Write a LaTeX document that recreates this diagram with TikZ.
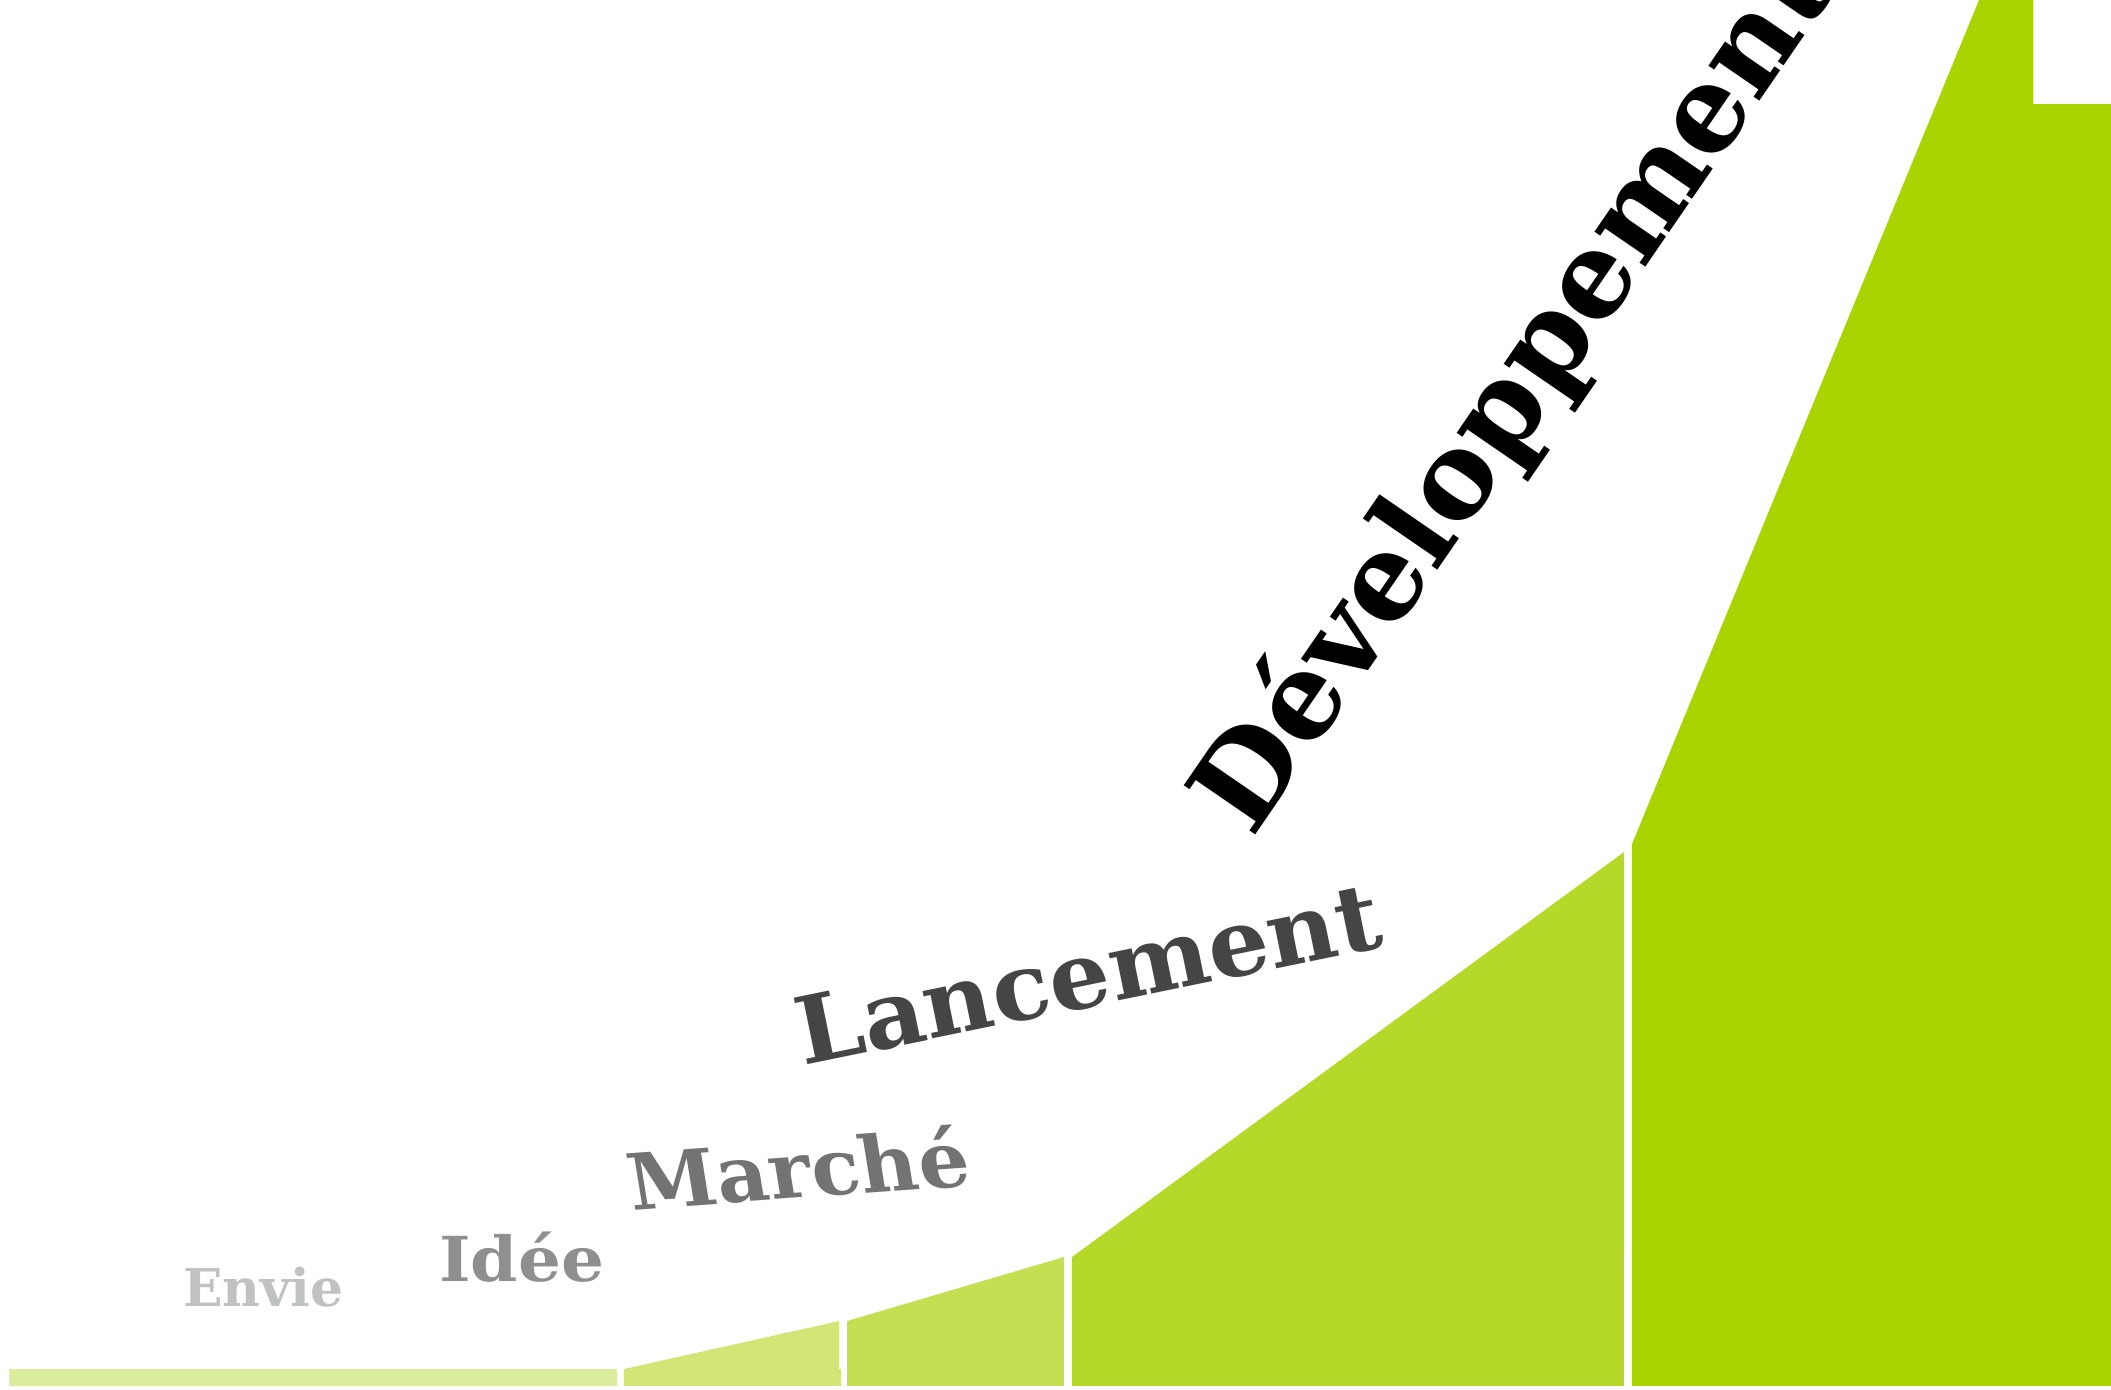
\documentclass[tikz,border=0pt]{standalone}
\usepackage{fontspec}
\setmainfont{DejaVu Serif}
\usetikzlibrary{positioning}

\definecolor{vertA}{HTML}{DBEC9C}
\definecolor{vertB}{HTML}{D1E677}
\definecolor{vertC}{HTML}{C4DF52}
\definecolor{vertD}{HTML}{B5D929}
\definecolor{vertE}{HTML}{AAD400}
\definecolor{grisA}{HTML}{C0C2C1}
\definecolor{grisB}{HTML}{8F8F8F}
\definecolor{grisC}{HTML}{737373}
\definecolor{grisD}{HTML}{454545}

\newcommand{\taille}[1]{\fontsize{#1}{#1}\selectfont}

\begin{document}
\begin{tikzpicture}[x=1pt,y=-1pt,
  etape/.style={inner sep=0pt, anchor=base west}]
\useasboundingbox (0,0) rectangle (2111,1389);

% the steps, from left to right
\fill[vertA] (9,1369) rectangle (617,1386);
\fill[vertB] (624,1369) rectangle (841,1386);
\fill[vertB] (624,1369) -- (839,1321) -- (839,1369) -- cycle;
\fill[vertC] (847,1321) rectangle (1064,1386);
\fill[vertC] (847,1321) -- (1064,1257) -- (1064,1321) -- cycle;
\fill[vertD] (1072,1257) rectangle (1624,1386);
\fill[vertD] (1072,1257) -- (1624,852) -- (1624,1257) -- cycle;
\fill[vertE] (1632,844) rectangle (2111,1386);
\fill[vertE] (1632,844) -- (1979,0) -- (2033,0) -- (2033,104) -- (2111,104) -- (2111,844) -- cycle;

% the words
\node[etape, text=grisA, font=\bfseries\taille{52}] (envie) at (183,1306) {Envie};
\node[etape, text=grisB, font=\bfseries\taille{62}, xscale=1.09] (idee) at (439,1281) {Idée};
\node[etape, text=grisC, font=\bfseries\taille{78}, rotate=4.1, xslant=-0.09, xscale=1.03] (marche) at (632,1210) {Marché};
\node[etape, text=grisD, font=\bfseries\taille{93}, rotate=11.6, xscale=1.03] (lancement) at (803,1066) {Lancement};
\node[etape, text=black, font=\bfseries\taille{119}, rotate=55.5] (developpement) at (1252,840) {Développement};
\end{tikzpicture}
\end{document}
